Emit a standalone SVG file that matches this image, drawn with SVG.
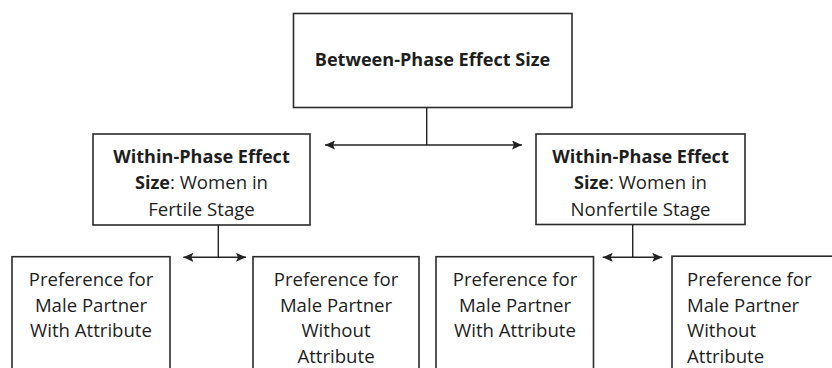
<svg xmlns="http://www.w3.org/2000/svg" width="832" height="368" viewBox="0 0 832 368">
<defs>
<style>
.box{fill:#fff;stroke:#2b2b2b;stroke-width:1.6}
.t{font-family:"Open Sans","Liberation Sans",sans-serif;font-size:18.6px;fill:#1e1e1e}
.c{text-anchor:middle}
.b{font-weight:bold;font-size:18.1px}
.ln{stroke:#222;stroke-width:1.4;fill:none}
</style>
<marker id="ah" viewBox="0 0 10 9" refX="10" refY="4.5" markerWidth="10" markerHeight="9" markerUnits="userSpaceOnUse" orient="auto-start-reverse">
<path d="M0,0 L10,4.5 L0,9 L2,4.5 Z" fill="#222"/>
</marker>
</defs>
<rect width="832" height="368" fill="#fff"/>
<g id="top">
<rect class="box" x="293.5" y="13.5" width="278.5" height="94"/>
<text class="t c b" x="432.5" y="66">Between-Phase Effect Size</text>
</g>
<g id="midLeft">
<rect class="box" x="93" y="134" width="217" height="91"/>
<text class="t c" x="201.5" y="162.5"><tspan class="b">Within-Phase Effect</tspan><tspan x="201.5" dy="26.5"><tspan class="b">Size</tspan>: Women in</tspan><tspan x="201.5" dy="26.5">Fertile Stage</tspan></text>
</g>
<g id="midRight">
<rect class="box" x="536" y="134" width="209" height="90.5"/>
<text class="t c" x="640.5" y="162.5"><tspan class="b">Within-Phase Effect</tspan><tspan x="640.5" dy="26.5"><tspan class="b">Size</tspan>: Women in</tspan><tspan x="640.5" dy="26.5">Nonfertile Stage</tspan></text>
</g>
<g id="b1">
<rect class="box" x="12" y="256.7" width="158" height="130"/>
<text class="t c" x="91" y="286">Preference for<tspan x="91" dy="25.7">Male Partner</tspan><tspan x="91" dy="25.7">With Attribute</tspan></text>
</g>
<g id="b2">
<rect class="box" x="253" y="256.7" width="166" height="130"/>
<text class="t c" x="336" y="286">Preference for<tspan x="336" dy="25.7">Male Partner</tspan><tspan x="336" dy="25.7">Without</tspan><tspan x="336" dy="25.7">Attribute</tspan></text>
</g>
<g id="b3">
<rect class="box" x="436" y="256.7" width="157.5" height="130"/>
<text class="t c" x="515" y="286">Preference for<tspan x="515" dy="25.7">Male Partner</tspan><tspan x="515" dy="25.7">With Attribute</tspan></text>
</g>
<g id="b4">
<rect class="box" x="672" y="256.2" width="180" height="130"/>
<text class="t" x="687" y="286">Preference for<tspan x="687" dy="25.7">Male Partner</tspan><tspan x="687" dy="25.7">Without</tspan><tspan x="687" dy="25.7">Attribute</tspan></text>
</g>
<g id="connectors">
<line class="ln" x1="426.7" y1="107.5" x2="426.7" y2="145"/>
<line class="ln" x1="325" y1="145" x2="522" y2="145" marker-start="url(#ah)" marker-end="url(#ah)"/>
<line class="ln" x1="218.3" y1="225" x2="218.3" y2="257.3"/>
<line class="ln" x1="183.3" y1="257.3" x2="246" y2="257.3" marker-start="url(#ah)" marker-end="url(#ah)"/>
<line class="ln" x1="632.7" y1="224.5" x2="632.7" y2="257.3"/>
<line class="ln" x1="602.7" y1="257.3" x2="662.3" y2="257.3" marker-start="url(#ah)" marker-end="url(#ah)"/>
</g>
</svg>
